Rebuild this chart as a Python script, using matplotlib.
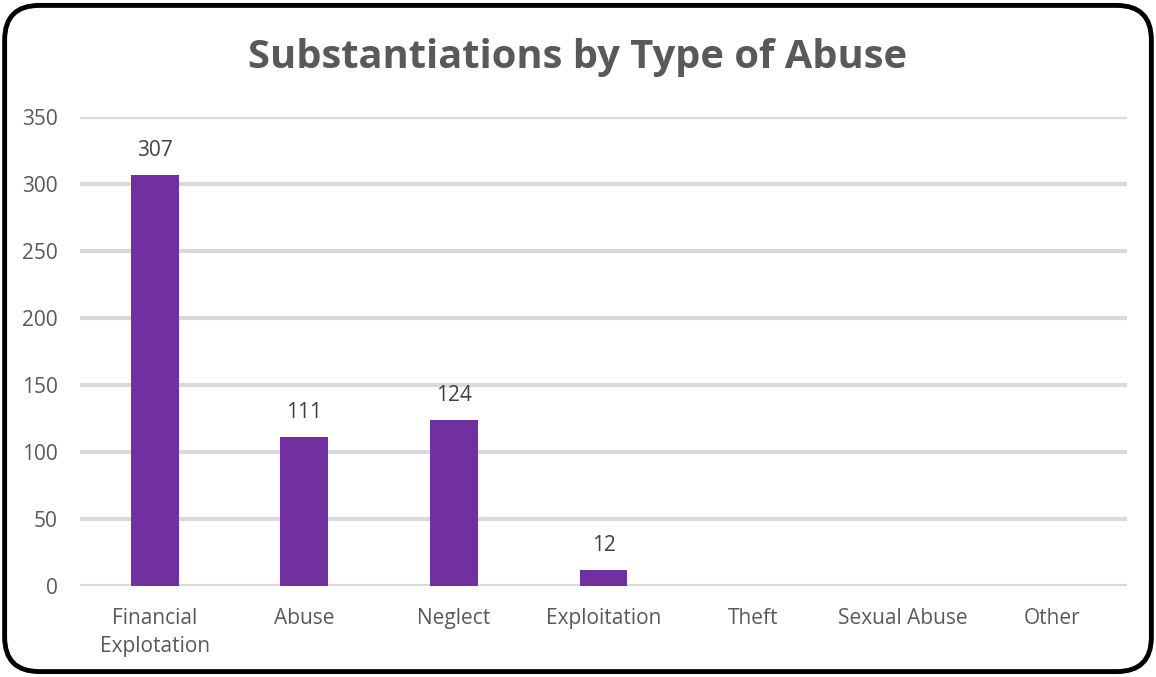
import numpy as np
import matplotlib.pyplot as plt
from matplotlib.patches import FancyBboxPatch

plt.rcParams['font.family'] = ['Open Sans', 'DejaVu Sans']

categories = ["Financial\nExplotation", "Abuse", "Neglect", "Exploitation",
              "Theft", "Sexual Abuse", "Other"]
values = [307, 111, 124, 12, 0, 0, 0]
yticks = [0, 50, 100, 150, 200, 250, 300, 350]

fig = plt.figure(figsize=(11.56, 6.77), dpi=100)
ax = fig.add_axes([0.0692, 0.1344, 0.9058, 0.6928])

x = np.arange(len(categories))
bars = ax.bar(x, values, width=0.32, color="#7030A0", zorder=3)

for xi, v in zip(x, values):
    if v > 0:
        ax.annotate(str(v), (xi, v), xytext=(0, 10), textcoords="offset points",
                    ha="center", va="bottom", fontsize=15, color="#404040")

ax.set_xlim(-0.5, len(categories) - 0.5)
ax.set_ylim(0, 350)
ax.set_yticks(yticks)
ax.set_xticks(x)
ax.set_xticklabels(categories, fontsize=15, color="#595959", linespacing=1.45)
ax.tick_params(axis="y", labelsize=15, labelcolor="#595959", length=0, pad=16)
ax.tick_params(axis="x", length=0, pad=16)
ax.yaxis.grid(True, color="#d9d9d9", linewidth=3, zorder=0)
for s in ax.spines.values():
    s.set_visible(False)

fig.text(0.5, 0.915, "Substantiations by Type of Abuse", ha="center", va="center",
         fontsize=28.7, fontweight="bold", color="#595959")

border = FancyBboxPatch((0.004, 0.008), 0.992, 0.984,
                        boxstyle="round,pad=0,rounding_size=0.03",
                        transform=fig.transFigure, fill=False,
                        edgecolor="black", linewidth=3.5, mutation_aspect=1156/677)
fig.patches.append(border)

fig.savefig("out.png", dpi=100)
